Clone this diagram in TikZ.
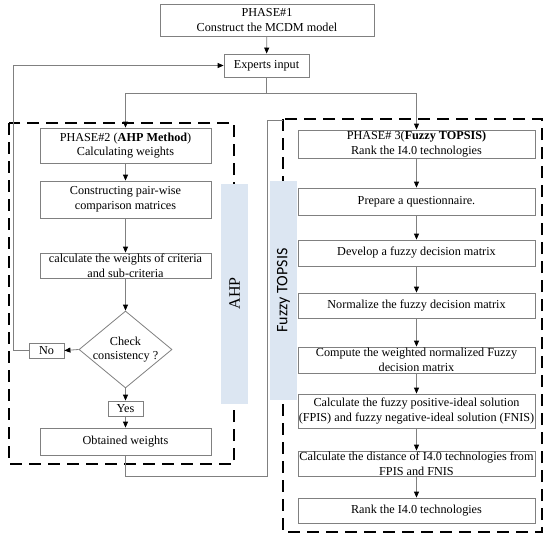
\documentclass[tikz,border=0pt]{standalone}
\usepackage{fontspec}
\setmainfont{Liberation Serif}
\newfontfamily\carl{Carlito}
\usetikzlibrary{arrows.meta,shapes.geometric}
\definecolor{boxgray}{RGB}{128,128,128}
\definecolor{bandblue}{RGB}{220,230,242}
\begin{document}
\begin{tikzpicture}[x=1pt,y=-1pt,
  txt/.style={font=\fontsize{12.2}{14.6}\selectfont},
  box/.style={txt, draw=boxgray, line width=0.8pt, inner sep=0pt, align=center},
  lbox/.style={box, minimum width=171pt},
  rbox/.style={box, minimum width=237pt},
  conn/.style={draw=boxgray, line width=0.8pt},
  arr/.style={conn, -{Triangle[length=6pt,width=5pt,color=black]}},
  dbox/.style={draw=black, line width=1.8pt, dash pattern=on 12pt off 7pt},
  band/.style={fill=bandblue, draw=none, inner sep=0pt, rotate=90}]
\useasboundingbox[fill=white] (0,0) rectangle (550,541);

% dashed phase frames
\draw[dbox] (9,123) rectangle (234,464);
\draw[dbox] (283,119) rectangle (542,532);

% bands
\node[band, minimum width=220pt, minimum height=27pt, font=\fontsize{16}{19}\selectfont] (ahp) at (234.5,293.5) {AHP};
\node[band, minimum width=219pt, minimum height=27pt, font=\carl\fontsize{16}{19}\selectfont] (fz) at (283.5,290.5) {Fuzzy TOPSIS};

% top
\node[box, minimum width=214pt, minimum height=32pt] (p1) at (267,20) {PHASE\#1\\Construct the MCDM model};
\node[box, minimum width=85pt, minimum height=23pt] (exp) at (266.5,65.5) {Experts input};

% left column
\node[lbox, minimum height=35pt] (p2) at (125.5,145.5) {PHASE\#2 (\textbf{AHP Method})\\Calculating weights};
\node[lbox, minimum height=37pt] (cons) at (125.5,199.5) {Constructing pair-wise\\comparison matrices};
\node[lbox, minimum height=25pt] (calc) at (125.5,265.5) {calculate the weights of criteria\\and sub-criteria};
\node[diamond, draw=boxgray, line width=0.8pt, minimum width=93pt, minimum height=77pt, inner sep=0pt] (dia) at (125.5,349.5) {};
\node[txt, align=center] (diatxt) at (dia.center) {Check\\consistency ?};
\node[box, minimum width=35pt, minimum height=15pt] (no) at (46.5,350.5) {No};
\node[box, minimum width=35pt, minimum height=15pt] (yes) at (125.5,408.5) {Yes};
\node[lbox, minimum height=27pt] (obt) at (125.5,441.5) {Obtained weights};

% right column
\node[rbox, minimum height=28pt] (p3) at (416.5,144) {PHASE\# 3(\textbf{Fuzzy TOPSIS)}\\Rank the I4.0 technologies};
\node[rbox, minimum height=27pt] (prep) at (416.5,201.5) {Prepare a questionnaire.};
\node[rbox, minimum height=26pt] (dev) at (416.5,253) {Develop a fuzzy decision matrix};
\node[rbox, minimum height=25pt] (norm) at (416.5,305.5) {Normalize the fuzzy decision matrix};
\node[rbox, minimum height=26pt] (comp) at (416.5,360) {Compute the weighted normalized Fuzzy\\decision matrix};
\node[rbox, minimum height=34pt] (fpis) at (416.5,411) {Calculate the fuzzy positive-ideal solution\\(FPIS) and fuzzy negative-ideal solution (FNIS)};
\node[rbox, minimum height=25pt] (dist) at (416.5,463.5) {Calculate the distance of I4.0 technologies from\\FPIS and FNIS};
\node[rbox, minimum height=25pt] (rank) at (416.5,510.5) {Rank the I4.0 technologies};

% coordinates
\coordinate (split) at (266.5,93);
\coordinate (fb1) at (13,350.5);
\coordinate (r1) at (125.5,476);
\coordinate (r2) at (267,476);
\coordinate (r3) at (267,120);
\coordinate (r4) at (283,120);

% connectors
\draw[arr] (p1) -- (exp);
\draw[conn] (exp.south) -- (split);
\draw[arr] (split) -| (p2.north);
\draw[arr] (split) -| (p3.north);
\draw[arr] (p2) -- (cons);
\draw[arr] (cons) -- (calc);
\draw[arr] (calc) -- (dia);
\draw[arr] (dia) -- (yes);
\draw[arr] (yes) -- (obt);
\draw[arr] (dia.west) -- (no.east);
\draw[arr] (no.west) -- (fb1) |- (exp.west);
\draw[conn] (obt.south) -- (r1) -- (r2) -- (r3) -- (r4);
\draw[arr] (p3) -- (prep);
\draw[arr] (prep) -- (dev);
\draw[arr] (dev) -- (norm);
\draw[arr] (norm) -- (comp);
\draw[arr] (comp) -- (fpis);
\draw[arr] (fpis) -- (dist);
\draw[arr] (dist) -- (rank);
\end{tikzpicture}
\end{document}
